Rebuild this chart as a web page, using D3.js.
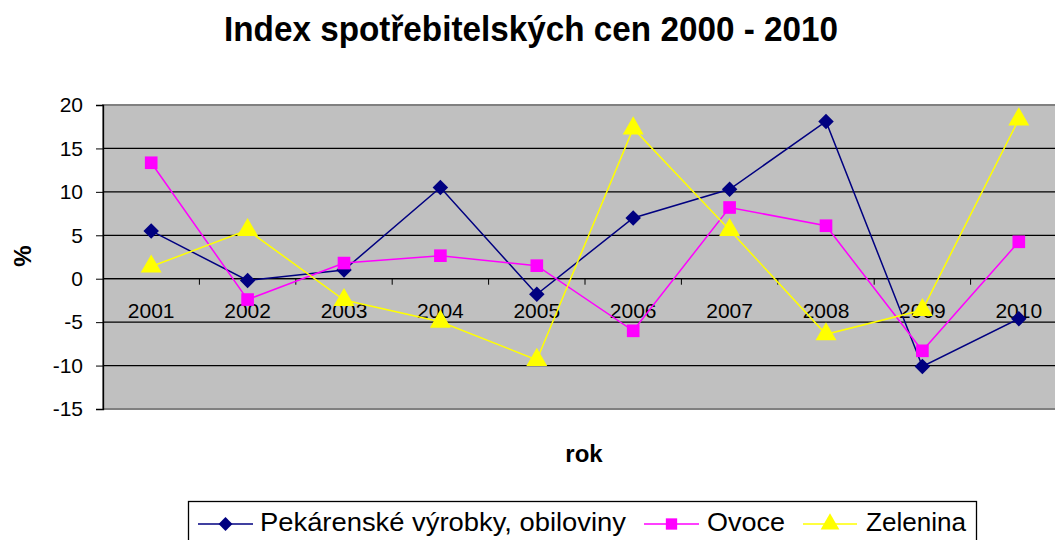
<!DOCTYPE html>
<html>
<head>
<meta charset="utf-8">
<script src="https://cdn.jsdelivr.net/npm/d3@7"></script>
<style>
  body { margin: 0; background: #fff; }
  svg { display: block; font-family: "Liberation Sans", Arial, sans-serif; }
</style>
</head>
<body>
<div class="container"></div>
<script>
// data
var years = ["2001", "2002", "2003", "2004", "2005", "2006", "2007", "2008", "2009", "2010"];
var pekarenske = [5.5, -0.2, 1.0, 10.5, -1.8, 7.0, 10.3, 18.1, -10.1, -4.6];
var ovoce = [13.35, -2.4, 1.8, 2.65, 1.5, -6.0, 8.2, 6.1, -8.3, 4.25];
var zelenina = [1.4, 5.6, -2.45, -4.95, -9.35, 17.3, 5.6, -6.4, -3.6, 18.35];
var yTicks = [20, 15, 10, 5, 0, -5, -10, -15];
var seriesNames = ["Pekárenské výrobky, obiloviny", "Ovoce", "Zelenina"];

var svgWidth = 1055;
var svgHeight = 540;
var margin = { top: 105, right: -12, bottom: 131, left: 103 };
var width = svgWidth - margin.left - margin.right;
var height = svgHeight - margin.top - margin.bottom;

var svg = d3.select(".container")
  .append("svg")
  .attr("width", svgWidth)
  .attr("height", svgHeight);

// title
svg.append("text")
  .attr("x", 531)
  .attr("y", 41)
  .attr("text-anchor", "middle")
  .attr("textLength", 614)
  .attr("lengthAdjust", "spacingAndGlyphs")
  .style("font-size", "35px")
  .style("font-weight", "bold")
  .text("Index spotřebitelských cen 2000 - 2010");

var chartGroup = svg.append("g")
  .attr("transform", `translate(${margin.left}, ${margin.top})`);

var xBand = d3.scaleBand().domain(years).range([0, width]);
var xScale = d => xBand(d) + xBand.bandwidth() / 2;
var yScale = d3.scaleLinear().domain([-15, 20]).range([height, 0]);

// plot background
chartGroup.append("rect")
  .attr("width", width)
  .attr("height", height)
  .attr("fill", "#c0c0c0");

// gridlines
chartGroup.append("g")
  .selectAll("line")
  .data(yTicks.filter(d => d !== 20 && d !== -15))
  .enter()
  .append("line")
  .attr("x1", 0)
  .attr("x2", width)
  .attr("y1", d => yScale(d))
  .attr("y2", d => yScale(d))
  .attr("stroke", "#000")
  .attr("stroke-width", 1.3);

// plot border
chartGroup.append("rect")
  .attr("width", width)
  .attr("height", height)
  .attr("fill", "none")
  .attr("stroke", "#808080")
  .attr("stroke-width", 2);

// y axis
var leftAxis = d3.axisLeft(yScale).tickValues(yTicks).tickSize(7).tickPadding(13).tickFormat(d3.format("d"));
var yAxis = chartGroup.append("g").call(leftAxis);
yAxis.select(".domain").attr("stroke", "#000").attr("stroke-width", 1.3);
yAxis.selectAll(".tick line").attr("stroke", "#000");
yAxis.selectAll("text")
  .style("font-size", "21px")
  .style("font-family", "Liberation Sans, Arial, sans-serif")
  .attr("fill", "#000")
  .text(d => d < 0 ? "-" + Math.abs(d) : d);

// x axis at zero, ticks at the category borders
var xAxisG = chartGroup.append("g").attr("transform", `translate(0, ${yScale(0)})`);
xAxisG.append("line")
  .attr("x1", 0).attr("x2", width)
  .attr("stroke", "#000").attr("stroke-width", 1.3);
xAxisG.selectAll(".xtick")
  .data(years.slice(1))
  .enter()
  .append("line")
  .attr("class", "xtick")
  .attr("x1", d => xBand(d))
  .attr("x2", d => xBand(d))
  .attr("y1", 0)
  .attr("y2", 6)
  .attr("stroke", "#000");
xAxisG.selectAll(".xlabel")
  .data(years)
  .enter()
  .append("text")
  .attr("class", "xlabel")
  .attr("x", d => xScale(d))
  .attr("y", 39)
  .attr("text-anchor", "middle")
  .style("font-size", "21px")
  .text(d => d);

// axis titles
svg.append("text")
  .attr("transform", "translate(31, 256) rotate(-90)")
  .attr("text-anchor", "middle")
  .style("font-size", "24px")
  .style("font-weight", "bold")
  .text("%");

svg.append("text")
  .attr("x", 584)
  .attr("y", 462)
  .attr("text-anchor", "middle")
  .style("font-size", "24px")
  .style("font-weight", "bold")
  .text("rok");

// series
var colors = ["#000080", "#ff00ff", "#ffff00"];
var shapes = [d3.symbolSquare, d3.symbolSquare, d3.symbolTriangle];
var sizes = [120, 160, 190];
var rotations = [45, 0, 0];
var allSeries = [pekarenske, ovoce, zelenina];

var line = d3.line()
  .x((d, i) => xScale(years[i]))
  .y(d => yScale(d));

allSeries.forEach(function(values, s) {
  chartGroup.append("path")
    .datum(values)
    .attr("fill", "none")
    .attr("stroke", colors[s])
    .attr("stroke-width", 1.5)
    .attr("d", line);
});

allSeries.forEach(function(values, s) {
  chartGroup.selectAll(".marker" + s)
    .data(values)
    .enter()
    .append("path")
    .attr("class", "marker" + s)
    .attr("transform", (d, i) => `translate(${xScale(years[i])}, ${yScale(d)}) rotate(${rotations[s]})`)
    .attr("d", d3.symbol().type(shapes[s]).size(sizes[s]))
    .attr("fill", colors[s]);
});

// legend
var legend = svg.append("g");
legend.append("rect")
  .attr("x", 188.5)
  .attr("y", 501.5)
  .attr("width", 788)
  .attr("height", 50)
  .attr("fill", "#fff")
  .attr("stroke", "#000")
  .attr("stroke-width", 1.3);

var legendItems = [
  { x1: 198, x2: 253, tx: 260, w: 366 },
  { x1: 644, x2: 699, tx: 707, w: 78 },
  { x1: 803, x2: 857, tx: 866, w: 100 }
];
legendItems.forEach(function(item, s) {
  var cy = 524;
  legend.append("line")
    .attr("x1", item.x1).attr("x2", item.x2)
    .attr("y1", cy).attr("y2", cy)
    .attr("stroke", colors[s])
    .attr("stroke-width", 1.5);
  legend.append("path")
    .attr("transform", `translate(${(item.x1 + item.x2) / 2}, ${cy}) rotate(${rotations[s]})`)
    .attr("d", d3.symbol().type(shapes[s]).size(sizes[s] * 0.8))
    .attr("fill", colors[s]);
  legend.append("text")
    .attr("x", item.tx)
    .attr("y", 531)
    .attr("textLength", item.w)
    .attr("lengthAdjust", "spacingAndGlyphs")
    .style("font-size", "25px")
    .text(seriesNames[s]);
});
</script>
</body>
</html>
